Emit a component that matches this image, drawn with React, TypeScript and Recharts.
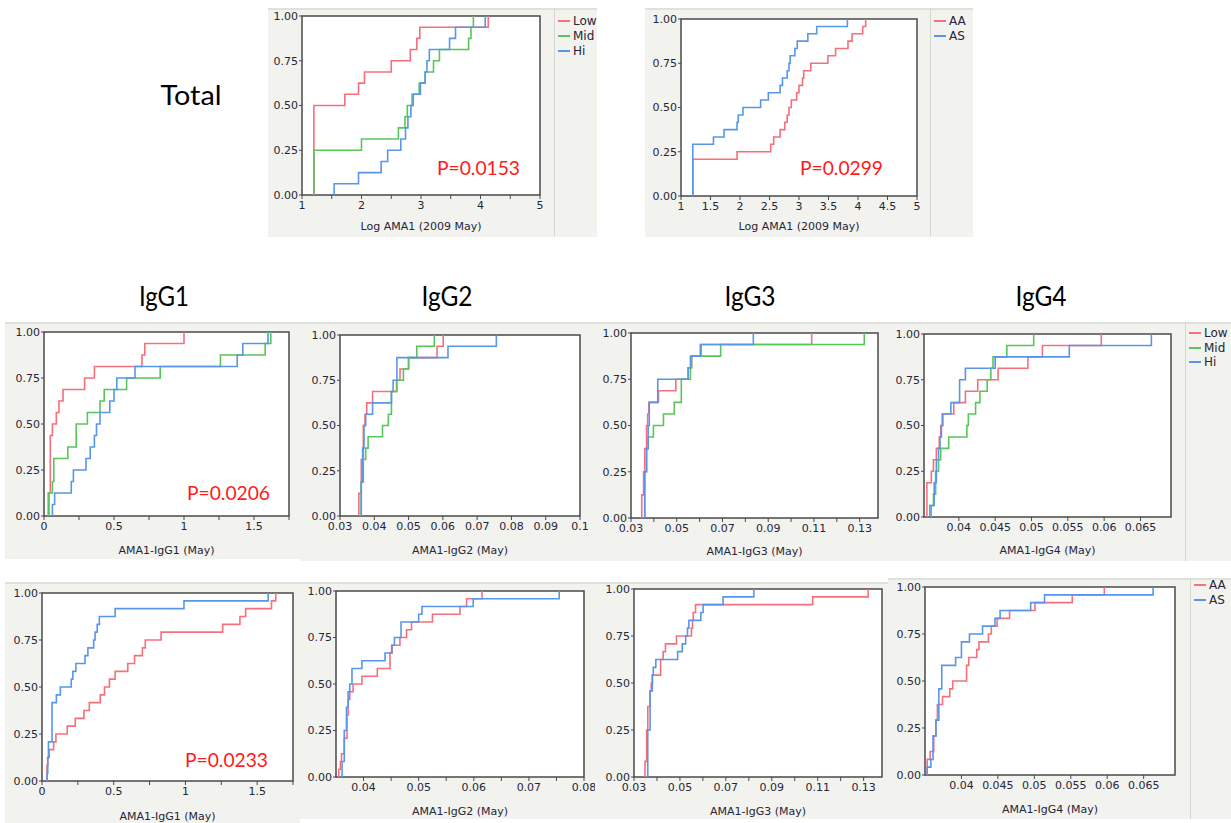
import React from "react";
import {
  LineChart,
  Line,
  XAxis,
  YAxis,
  CartesianGrid,
  ReferenceArea,
} from "recharts";

// ---- data ----

// Total, by tertile
const totalLowX = [1.2, 1.72, 1.95, 2.05, 2.5, 2.82, 2.93, 2.98, 4.13];
const totalLowY = [0.5, 0.5625, 0.625, 0.6875, 0.75, 0.8125, 0.875, 0.9375, 1];
const totalMidX = [1.2, 2.0, 2.62, 2.73, 2.77, 2.85, 2.97, 3.07, 3.21, 3.31, 3.8, 3.84, 3.88];
const totalMidY = [0.25, 0.3125, 0.375, 0.4375, 0.5, 0.5625, 0.625, 0.6875, 0.75, 0.8125, 0.875, 0.9375, 1];
const totalHiX = [1.54, 1.95, 2.33, 2.44, 2.66, 2.74, 2.78, 2.83, 2.87, 2.99, 3.07, 3.1, 3.14, 3.48, 3.58, 4.08];
const totalHiY = [0.0625, 0.125, 0.1875, 0.25, 0.3125, 0.375, 0.4375, 0.5, 0.5625, 0.625, 0.6875, 0.75, 0.8125, 0.875, 0.9375, 1];

// Total, by genotype
const totalAAX = [1.2, 1.95, 2.52, 2.57, 2.68, 2.76, 2.8, 2.83, 2.87, 2.96, 3.0, 3.06, 3.08, 3.2, 3.49, 3.62, 3.83, 3.9, 4.08, 4.13];
const totalAAY = [0.208, 0.25, 0.292, 0.333, 0.375, 0.417, 0.458, 0.5, 0.542, 0.583, 0.625, 0.667, 0.708, 0.75, 0.792, 0.833, 0.875, 0.917, 0.958, 1];
const totalASX = [1.2, 1.55, 1.73, 1.95, 1.97, 2.05, 2.35, 2.48, 2.68, 2.72, 2.8, 2.83, 2.85, 2.93, 2.97, 3.15, 3.3, 3.82];
const totalASY = [0.292, 0.333, 0.375, 0.417, 0.458, 0.5, 0.542, 0.583, 0.625, 0.667, 0.708, 0.75, 0.792, 0.833, 0.875, 0.917, 0.958, 1];

// IgG1..IgG4 by tertile
const g1LowX = [0.036, 0.045, 0.06, 0.088, 0.107, 0.136, 0.29, 0.36, 0.7, 0.72, 1.0];
const g1LowY = [0.125, 0.4375, 0.5, 0.5625, 0.625, 0.6875, 0.75, 0.8125, 0.875, 0.9375, 1];
const g1MidX = [0.03, 0.06, 0.07, 0.17, 0.23, 0.31, 0.4, 0.43, 0.59, 0.83, 1.26, 1.58, 1.62];
const g1MidY = [0.125, 0.1875, 0.3125, 0.375, 0.5, 0.5625, 0.625, 0.6875, 0.75, 0.8125, 0.875, 0.9375, 1];
const g1HiX = [0.06, 0.076, 0.195, 0.21, 0.3, 0.33, 0.36, 0.375, 0.4, 0.47, 0.5, 0.52, 0.65, 1.38, 1.42, 1.6];
const g1HiY = [0.0625, 0.125, 0.1875, 0.25, 0.3125, 0.375, 0.4375, 0.5, 0.5625, 0.625, 0.6875, 0.75, 0.8125, 0.875, 0.9375, 1];

const g2LowX = [0.0355, 0.0362, 0.0368, 0.0373, 0.0378, 0.0395, 0.0465, 0.0475, 0.05, 0.0583, 0.0601];
const g2LowY = [0.125, 0.3125, 0.5, 0.5625, 0.625, 0.6875, 0.75, 0.8125, 0.875, 0.9375, 1];
const g2MidX = [0.0362, 0.0368, 0.0375, 0.0382, 0.0424, 0.0441, 0.045, 0.0466, 0.0485, 0.05, 0.0524, 0.0575];
const g2MidY = [0.1875, 0.3125, 0.375, 0.4375, 0.5, 0.5625, 0.6875, 0.75, 0.8125, 0.875, 0.9375, 1];
const g2HiX = [0.0362, 0.0366, 0.037, 0.0375, 0.0395, 0.045, 0.0455, 0.0466, 0.0615, 0.0756];
const g2HiY = [0.1875, 0.375, 0.5, 0.5625, 0.625, 0.6875, 0.75, 0.875, 0.9375, 1];

const g3LowX = [0.0347, 0.0355, 0.036, 0.0368, 0.0373, 0.0378, 0.042, 0.0496, 0.055, 0.0565, 0.0607, 0.109];
const g3LowY = [0.125, 0.25, 0.375, 0.5, 0.5625, 0.625, 0.6875, 0.75, 0.8125, 0.875, 0.9375, 1];
const g3MidX = [0.036, 0.0368, 0.0375, 0.0398, 0.0442, 0.0489, 0.052, 0.056, 0.0565, 0.0692, 0.132];
const g3MidY = [0.25, 0.375, 0.4375, 0.5, 0.5625, 0.625, 0.75, 0.8125, 0.875, 0.9375, 1];
const g3HiX = [0.036, 0.0368, 0.0375, 0.038, 0.0417, 0.055, 0.056, 0.0603, 0.0835];
const g3HiY = [0.25, 0.375, 0.5, 0.625, 0.75, 0.8125, 0.875, 0.9375, 1];

const g4LowX = [0.0356, 0.0362, 0.0365, 0.0369, 0.0373, 0.0375, 0.0377, 0.0393, 0.0409, 0.0426, 0.0454, 0.0495, 0.0515, 0.0596];
const g4LowY = [0.1875, 0.25, 0.3125, 0.375, 0.4375, 0.5, 0.5625, 0.625, 0.6875, 0.75, 0.8125, 0.875, 0.9375, 1];
const g4MidX = [0.0362, 0.0365, 0.0368, 0.0372, 0.0375, 0.0386, 0.0411, 0.0413, 0.0423, 0.0429, 0.0439, 0.0444, 0.0447, 0.0466, 0.0503];
const g4MidY = [0.0625, 0.125, 0.25, 0.3125, 0.375, 0.4375, 0.5, 0.5625, 0.625, 0.6875, 0.75, 0.8125, 0.875, 0.9375, 1];
const g4HiX = [0.036, 0.0366, 0.0369, 0.0372, 0.0374, 0.0376, 0.0378, 0.0389, 0.0401, 0.0409, 0.045, 0.0552, 0.0665];
const g4HiY = [0.0625, 0.1875, 0.3125, 0.375, 0.4375, 0.5, 0.5625, 0.625, 0.75, 0.8125, 0.875, 0.9375, 1];

// IgG1..IgG4 by genotype
const a1AAX = [0.035, 0.04, 0.05, 0.081, 0.097, 0.176, 0.232, 0.292, 0.33, 0.406, 0.436, 0.47, 0.51, 0.598, 0.645, 0.7, 0.72, 0.83, 1.26, 1.38, 1.42, 1.6, 1.63];
const a1AAY = [0.083, 0.125, 0.167, 0.208, 0.25, 0.292, 0.333, 0.375, 0.417, 0.458, 0.5, 0.542, 0.583, 0.625, 0.667, 0.708, 0.75, 0.792, 0.833, 0.875, 0.917, 0.958, 1];
const a1ASX = [0.035, 0.04, 0.045, 0.07, 0.1, 0.128, 0.204, 0.215, 0.236, 0.3, 0.32, 0.36, 0.37, 0.385, 0.4, 0.51, 0.99, 1.577];
const a1ASY = [0.042, 0.125, 0.208, 0.417, 0.458, 0.5, 0.542, 0.583, 0.625, 0.667, 0.708, 0.75, 0.792, 0.833, 0.875, 0.917, 0.958, 1];

const a2AAX = [0.0355, 0.0358, 0.036, 0.0365, 0.037, 0.0372, 0.0375, 0.0381, 0.0397, 0.0425, 0.0448, 0.0452, 0.0466, 0.0478, 0.0487, 0.0525, 0.0575, 0.0587, 0.0615];
const a2AAY = [0.042, 0.083, 0.125, 0.208, 0.333, 0.417, 0.458, 0.5, 0.542, 0.583, 0.667, 0.708, 0.75, 0.792, 0.833, 0.875, 0.917, 0.958, 1];
const a2ASX = [0.0361, 0.0365, 0.0369, 0.0372, 0.0375, 0.0379, 0.0397, 0.0439, 0.0451, 0.0456, 0.0468, 0.05, 0.0506, 0.0599, 0.0755];
const a2ASY = [0.083, 0.25, 0.375, 0.458, 0.5, 0.583, 0.625, 0.667, 0.708, 0.75, 0.833, 0.875, 0.917, 0.958, 1];

const a3AAX = [0.0348, 0.0355, 0.036, 0.037, 0.0375, 0.038, 0.0416, 0.0427, 0.0437, 0.0485, 0.055, 0.0555, 0.0558, 0.0568, 0.1078, 0.132];
const a3AAY = [0.083, 0.25, 0.375, 0.458, 0.5, 0.542, 0.625, 0.667, 0.708, 0.75, 0.792, 0.833, 0.875, 0.917, 0.958, 1];
const a3ASX = [0.036, 0.037, 0.038, 0.0384, 0.0395, 0.049, 0.051, 0.0525, 0.0533, 0.0539, 0.0591, 0.0601, 0.0688, 0.0822];
const a3ASY = [0.25, 0.458, 0.542, 0.583, 0.625, 0.667, 0.708, 0.75, 0.792, 0.833, 0.875, 0.917, 0.958, 1];

const a4AAX = [0.0353, 0.0357, 0.0362, 0.0365, 0.0367, 0.0374, 0.0384, 0.0388, 0.0407, 0.041, 0.0421, 0.0424, 0.0437, 0.0441, 0.0449, 0.0466, 0.0501, 0.0552, 0.0596];
const a4AAY = [0.083, 0.125, 0.208, 0.292, 0.375, 0.417, 0.458, 0.5, 0.583, 0.625, 0.667, 0.708, 0.75, 0.792, 0.833, 0.875, 0.917, 0.958, 1];
const a4ASX = [0.0353, 0.0358, 0.0361, 0.0365, 0.0369, 0.0373, 0.0392, 0.04, 0.0411, 0.0429, 0.0446, 0.0453, 0.0495, 0.0514, 0.0663];
const a4ASY = [0.042, 0.083, 0.208, 0.292, 0.458, 0.583, 0.625, 0.708, 0.75, 0.792, 0.833, 0.875, 0.917, 0.958, 1];

// axis ticks
const yTicks = [0, 0.25, 0.5, 0.75, 1];
const totalTicks = [1, 1.5, 2, 2.5, 3, 3.5, 4, 4.5, 5];
const totalLabels = [1, 2, 3, 4, 5];
const totalAsTicks = [1, 1.5, 2, 2.5, 3, 3.5, 4, 4.5, 5];
const g1Ticks = [0, 0.25, 0.5, 0.75, 1, 1.25, 1.5, 1.75];
const g1Labels = [0, 0.5, 1, 1.5];
const g2Ticks = [0.03, 0.04, 0.05, 0.06, 0.07, 0.08, 0.09, 0.1];
const g3Ticks = [0.03, 0.04, 0.05, 0.06, 0.07, 0.08, 0.09, 0.1, 0.11, 0.12, 0.13];
const g3Labels = [0.03, 0.05, 0.07, 0.09, 0.11, 0.13];
const g4Ticks = [0.04, 0.045, 0.05, 0.055, 0.06, 0.065];
const a2Ticks = [0.04, 0.045, 0.05, 0.055, 0.06, 0.065, 0.07, 0.075, 0.08];
const a2Labels = [0.04, 0.05, 0.06, 0.07, 0.08];

const RED = "#f66f7d";
const GREEN = "#58c65a";
const BLUE = "#5896ec";

type Series = { name: string; xs: number[]; ys: number[]; color: string };

const tertiles = (lx: number[], ly: number[], mx: number[], my: number[], hx: number[], hy: number[]): Series[] => [
  { name: "Low", xs: lx, ys: ly, color: RED },
  { name: "Mid", xs: mx, ys: my, color: GREEN },
  { name: "Hi", xs: hx, ys: hy, color: BLUE },
];
const genotypes = (ax: number[], ay: number[], sx: number[], sy: number[]): Series[] => [
  { name: "AA", xs: ax, ys: ay, color: RED },
  { name: "AS", xs: sx, ys: sy, color: BLUE },
];

// step-CDF points: start at 0 on the first value
const toPoints = (xs: number[], ys: number[]) => [
  { x: xs[0], y: 0 },
  ...xs.map((x, i) => ({ x, y: ys[i] })),
];

const fmtNum = (v: number) => String(Number(v.toFixed(4)));
const Y_W = 30;
const INK = "#262636";
const TICK_FONT = { fontSize: 11, fontFamily: "DejaVu Sans", fill: INK };

type PanelProps = {
  frame: { x: number; y: number; w: number; h: number };
  chartW: number;
  plot: { l: number; t: number; r: number; b: number };
  domain: [number, number];
  ticks: number[];
  labels?: number[];
  label: string;
  labelY: number;
  series: Series[];
  legend?: { top: number; gap: number };
};

function Panel({ frame, chartW, plot, domain, ticks, labels, label, labelY, series, legend }: PanelProps) {
  const margin = {
    left: plot.l - frame.x - Y_W,
    top: plot.t - frame.y,
    right: frame.x + chartW - plot.r,
    bottom: frame.y + frame.h - (labelY + 4),
  };
  const xHeight = labelY + 4 - plot.b;
  const shown = labels ?? ticks;

  return (
    <div
      style={{
        position: "absolute",
        left: frame.x,
        top: frame.y,
        width: frame.w,
        height: frame.h,
        background: "#f2f2ef",
      }}
    >
      <div style={{ position: "absolute", left: 0, top: 0, width: frame.w, height: 2, background: "#e0e0dc" }} />
      <div style={{ position: "absolute", left: 0, top: 0 }}>
        <LineChart width={chartW} height={frame.h} margin={margin}>
          <CartesianGrid horizontal={false} vertical={false} fill="#ffffff" />
          <XAxis
            dataKey="x"
            type="number"
            domain={domain}
            allowDataOverflow
            ticks={ticks}
            interval={0}
            tickFormatter={(v: number) => (shown.some((s) => Math.abs(s - v) < 1e-9) ? fmtNum(v) : "")}
            height={xHeight}
            axisLine={false}
            tickLine={{ stroke: "#4a4a4a" }}
            tickSize={4}
            tickMargin={2}
            tick={TICK_FONT}
            label={{
              value: label,
              position: "insideBottom",
              offset: 0,
              style: { fontSize: 11, fontFamily: "DejaVu Sans", fill: INK },
            }}
          />
          <YAxis
            type="number"
            domain={[0, 1]}
            ticks={yTicks}
            interval={0}
            width={Y_W}
            tickFormatter={(v: number) => v.toFixed(2)}
            axisLine={false}
            tickLine={{ stroke: "#4a4a4a" }}
            tickSize={3}
            tickMargin={1}
            tick={TICK_FONT}
          />
          {series.map((s) => (
            <Line
              key={s.name}
              data={toPoints(s.xs, s.ys)}
              dataKey="y"
              name={s.name}
              type="stepAfter"
              stroke={s.color}
              strokeWidth={1.6}
              dot={false}
              activeDot={false}
              isAnimationActive={false}
            />
          ))}
          <ReferenceArea
            x1={domain[0]}
            x2={domain[1]}
            y1={0}
            y2={1}
            fill="none"
            stroke="#4a4a4a"
            strokeWidth={1.5}
            ifOverflow="visible"
          />
        </LineChart>
      </div>
      {legend && (
        <>
          <div
            style={{
              position: "absolute",
              left: chartW,
              top: 0,
              width: 1,
              height: frame.h,
              background: "#d6d6d2",
            }}
          />
          {series.map((s, i) => (
            <div
              key={s.name}
              style={{
                position: "absolute",
                left: chartW + 4,
                top: legend.top + i * legend.gap,
                display: "flex",
                alignItems: "center",
                fontFamily: "DejaVu Sans",
                fontSize: 12,
                color: INK,
                lineHeight: "14px",
              }}
            >
              <span style={{ display: "inline-block", width: 12, height: 2, background: s.color, marginRight: 3 }} />
              {s.name}
            </div>
          ))}
        </>
      )}
    </div>
  );
}

const titles = [
  { text: "Total", x: 191, y: 105, w: 61 },
  { text: "IgG1", x: 164, y: 306, w: 50 },
  { text: "IgG2", x: 447, y: 306, w: 51 },
  { text: "IgG3", x: 750, y: 306, w: 51 },
  { text: "IgG4", x: 1041, y: 306, w: 51 },
];
const pValues = [
  { text: "P=0.0153", x: 437, y: 175 },
  { text: "P=0.0299", x: 800, y: 175 },
  { text: "P=0.0206", x: 187, y: 500 },
  { text: "P=0.0233", x: 185, y: 767 },
];

export default function App() {
  return (
    <div
      style={{
        position: "absolute",
        left: 0,
        top: 0,
        width: 1231,
        height: 823,
        background: "#ffffff",
        overflow: "hidden",
      }}
    >
      <Panel
        frame={{ x: 268, y: 8, w: 329, h: 229 }}
        chartW={286}
        plot={{ l: 302, t: 16, r: 540, b: 195 }}
        domain={[1, 5]}
        ticks={totalTicks}
        labels={totalLabels}
        label="Log AMA1 (2009 May)"
        labelY={226}
        series={tertiles(totalLowX, totalLowY, totalMidX, totalMidY, totalHiX, totalHiY)}
        legend={{ top: 6, gap: 15 }}
      />
      <Panel
        frame={{ x: 645, y: 8, w: 328, h: 229 }}
        chartW={285}
        plot={{ l: 681, t: 19, r: 917, b: 196 }}
        domain={[1, 5]}
        ticks={totalAsTicks}
        label="Log AMA1 (2009 May)"
        labelY={226}
        series={genotypes(totalAAX, totalAAY, totalASX, totalASY)}
        legend={{ top: 6, gap: 15 }}
      />
      <Panel
        frame={{ x: 5, y: 322, w: 295, h: 237 }}
        chartW={295}
        plot={{ l: 44, t: 332, r: 289, b: 516 }}
        domain={[0, 1.75]}
        ticks={g1Ticks}
        labels={g1Labels}
        label="AMA1-IgG1 (May)"
        labelY={550}
        series={tertiles(g1LowX, g1LowY, g1MidX, g1MidY, g1HiX, g1HiY)}
      />
      <Panel
        frame={{ x: 300, y: 322, w: 295, h: 239 }}
        chartW={295}
        plot={{ l: 340, t: 335, r: 580, b: 516 }}
        domain={[0.03, 0.1]}
        ticks={g2Ticks}
        label="AMA1-IgG2 (May)"
        labelY={550}
        series={tertiles(g2LowX, g2LowY, g2MidX, g2MidY, g2HiX, g2HiY)}
      />
      <Panel
        frame={{ x: 595, y: 322, w: 293, h: 239 }}
        chartW={293}
        plot={{ l: 631, t: 333, r: 878, b: 518 }}
        domain={[0.03, 0.138]}
        ticks={g3Ticks}
        labels={g3Labels}
        label="AMA1-IgG3 (May)"
        labelY={551}
        series={tertiles(g3LowX, g3LowY, g3MidX, g3MidY, g3HiX, g3HiY)}
      />
      <Panel
        frame={{ x: 888, y: 322, w: 343, h: 239 }}
        chartW={297}
        plot={{ l: 924, t: 334, r: 1171, b: 517 }}
        domain={[0.0352, 0.0692]}
        ticks={g4Ticks}
        label="AMA1-IgG4 (May)"
        labelY={550}
        series={tertiles(g4LowX, g4LowY, g4MidX, g4MidY, g4HiX, g4HiY)}
        legend={{ top: 4, gap: 14.5 }}
      />
      <Panel
        frame={{ x: 5, y: 582, w: 295, h: 241 }}
        chartW={295}
        plot={{ l: 42, t: 593, r: 293, b: 781 }}
        domain={[0, 1.75]}
        ticks={g1Ticks}
        labels={g1Labels}
        label="AMA1-IgG1 (May)"
        labelY={816}
        series={genotypes(a1AAX, a1AAY, a1ASX, a1ASY)}
      />
      <Panel
        frame={{ x: 300, y: 582, w: 295, h: 237 }}
        chartW={295}
        plot={{ l: 336, t: 591, r: 584, b: 777 }}
        domain={[0.035, 0.08]}
        ticks={a2Ticks}
        labels={a2Labels}
        label="AMA1-IgG2 (May)"
        labelY={811}
        series={genotypes(a2AAX, a2AAY, a2ASX, a2ASY)}
      />
      <Panel
        frame={{ x: 595, y: 582, w: 293, h: 237 }}
        chartW={293}
        plot={{ l: 634, t: 589, r: 882, b: 777 }}
        domain={[0.03, 0.138]}
        ticks={g3Ticks}
        labels={g3Labels}
        label="AMA1-IgG3 (May)"
        labelY={811}
        series={genotypes(a3AAX, a3AAY, a3ASX, a3ASY)}
      />
      <Panel
        frame={{ x: 888, y: 578, w: 343, h: 241 }}
        chartW={302}
        plot={{ l: 925, t: 587, r: 1175, b: 775 }}
        domain={[0.035, 0.0693]}
        ticks={g4Ticks}
        label="AMA1-IgG4 (May)"
        labelY={809}
        series={genotypes(a4AAX, a4AAY, a4ASX, a4ASY)}
        legend={{ top: 0, gap: 15 }}
      />
      <svg
        width={1231}
        height={823}
        style={{ position: "absolute", left: 0, top: 0, pointerEvents: "none" }}
      >
        {titles.map((t) => (
          <text
            key={t.text}
            x={t.x}
            y={t.y}
            textAnchor="middle"
            fontFamily="Lato, 'Open Sans', sans-serif"
            fontSize={26}
            fill="#000"
            textLength={t.w}
            lengthAdjust="spacingAndGlyphs"
          >
            {t.text}
          </text>
        ))}
        {pValues.map((p) => (
          <text
            key={p.text}
            x={p.x}
            y={p.y}
            fontFamily="Lato, 'Open Sans', sans-serif"
            fontSize={20}
            fill="#ff1a1a"
            textLength={83}
            lengthAdjust="spacingAndGlyphs"
          >
            {p.text}
          </text>
        ))}
      </svg>
    </div>
  );
}
